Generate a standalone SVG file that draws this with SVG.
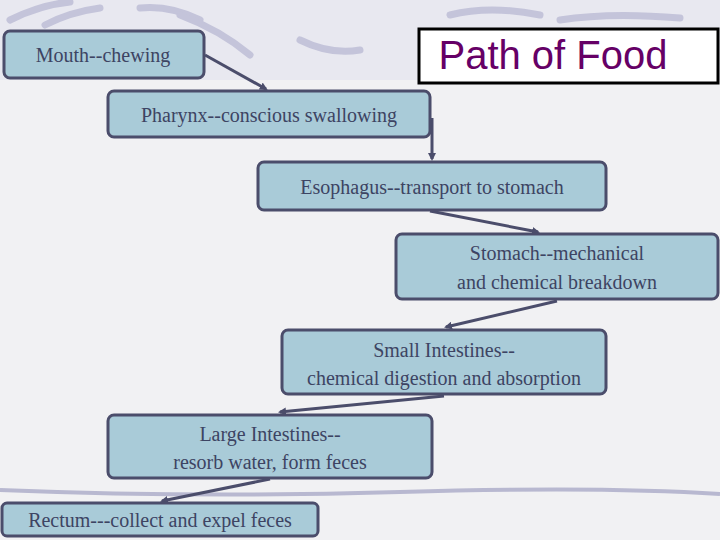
<svg xmlns="http://www.w3.org/2000/svg" width="720" height="540" viewBox="0 0 720 540">
<style>
.box{fill:#a9cbd8;stroke:#4b4d6b;stroke-width:3}
.t{font-family:"Liberation Serif",serif;font-size:20px;fill:#3d4463;text-anchor:middle}
.c{stroke:#4b4d6b;stroke-width:3;fill:none;marker-end:url(#ah)}
.sw{stroke:#c4c4da;stroke-width:7;fill:none;stroke-linecap:round}
</style>
<defs><marker id="ah" markerWidth="8" markerHeight="8" refX="6" refY="4" orient="auto" markerUnits="userSpaceOnUse"><path d="M0,0 L8,4 L0,8 z" fill="#4b4d6b"/></marker></defs>
<rect width="720" height="540" fill="#f1f1f3"/>
<rect width="720" height="80" fill="#e8e8f0"/>
<g>
<path class="sw" d="M10,20 Q40,5 70,2"/><path class="sw" d="M45,25 Q70,12 100,8"/>
<path class="sw" d="M140,8 Q170,5 200,20"/><path class="sw" d="M180,15 Q220,30 250,55"/>
<path class="sw" d="M300,40 Q330,55 360,50"/><path class="sw" d="M450,15 Q490,5 540,15"/>
<path class="sw" d="M560,20 Q610,12 680,18"/>
<path d="M0,490 Q200,498 400,492 T720,494" stroke="#b8b8d0" stroke-width="4" fill="none"/>
</g>
<g id="title"><rect x="419" y="29" width="299" height="54" fill="#fff" stroke="#000" stroke-width="3"/><text x="553" y="69" font-family="Liberation Sans,sans-serif" font-size="40" fill="#660066" text-anchor="middle">Path of Food</text></g>
<g id="connectors">
<line class="c" x1="205" y1="55" x2="266" y2="89"/>
<line class="c" x1="432" y1="118" x2="432" y2="159"/>
<line class="c" x1="430" y1="211" x2="538" y2="232"/>
<line class="c" x1="557" y1="301" x2="446" y2="327"/>
<line class="c" x1="444" y1="396" x2="280" y2="412"/>
<line class="c" x1="270" y1="479" x2="162" y2="501"/>
</g>
<g id="mouth"><rect class="box" x="4" y="31" width="200" height="47" rx="6"/><text class="t" x="103" y="62">Mouth--chewing</text></g>
<g id="pharynx"><rect class="box" x="108" y="91" width="322" height="46" rx="6"/><text class="t" x="269" y="122">Pharynx--conscious swallowing</text></g>
<g id="esophagus"><rect class="box" x="258" y="162" width="348" height="48" rx="6"/><text class="t" x="432" y="194">Esophagus--transport to stomach</text></g>
<g id="stomach"><rect class="box" x="396" y="234" width="322" height="65" rx="6"/><text class="t" x="557" y="260">Stomach--mechanical</text><text class="t" x="557" y="289">and chemical breakdown</text></g>
<g id="small"><rect class="box" x="282" y="330" width="324" height="64" rx="6"/><text class="t" x="444" y="357">Small Intestines--</text><text class="t" x="444" y="385">chemical digestion and absorption</text></g>
<g id="large"><rect class="box" x="108" y="415" width="324" height="63" rx="6"/><text class="t" x="270" y="441">Large Intestines--</text><text class="t" x="270" y="469">resorb water, form feces</text></g>
<g id="rectum"><rect class="box" x="2" y="503" width="316" height="33" rx="5"/><text class="t" x="160" y="527">Rectum---collect and expel feces</text></g>
</svg>
